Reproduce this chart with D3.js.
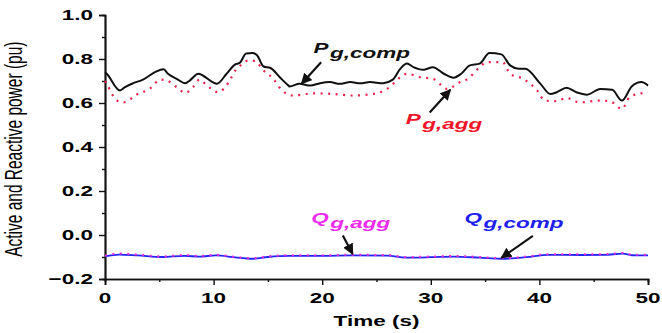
<!DOCTYPE html>
<html>
<head>
<meta charset="utf-8">
<script src="https://cdn.jsdelivr.net/npm/d3@7"></script>
<style>
  body { margin: 0; background: #fff; }
  text { font-family: "Liberation Sans", Arial, sans-serif; }
</style>
</head>
<body>
<div id="chart"></div>
<script>
// Active / reactive power, composite vs aggregated model

var pCompT = [0, 0.16, 1.38, 1.84, 2.6, 3.5, 4.6, 5.4, 5.8, 6.6, 7.4, 7.8, 8.6, 9.0, 9.9, 10.3, 11.2, 12.0, 12.4, 13.0, 13.6, 14.0, 14.6, 15.2, 16.1, 16.9, 17.0, 17.9, 18.9, 19.8, 20.7, 21.6, 22.6, 23.5, 24.4, 25.6, 26.5, 27.2, 27.8, 28.4, 29.3, 30.2, 31.2, 32.1, 32.8, 33.6, 34.5, 35.4, 36.5, 37.3, 38.1, 38.7, 40.1, 41.0, 41.6, 42.5, 43.4, 44.4, 45.6, 46.7, 47.6, 48.5, 49.4, 50];
var pCompV = [0.74, 0.733, 0.657, 0.672, 0.690, 0.706, 0.740, 0.753, 0.733, 0.710, 0.690, 0.702, 0.733, 0.725, 0.695, 0.687, 0.733, 0.776, 0.782, 0.825, 0.827, 0.817, 0.766, 0.760, 0.717, 0.679, 0.675, 0.687, 0.679, 0.690, 0.695, 0.687, 0.695, 0.690, 0.695, 0.690, 0.706, 0.756, 0.779, 0.763, 0.751, 0.763, 0.733, 0.715, 0.733, 0.771, 0.779, 0.827, 0.821, 0.771, 0.756, 0.756, 0.687, 0.641, 0.649, 0.669, 0.649, 0.638, 0.664, 0.660, 0.611, 0.675, 0.695, 0.679];

var pAggT = [0, 0.16, 1.1, 1.7, 2.9, 4.1, 5.1, 5.7, 6.6, 7.4, 8.1, 8.7, 9.4, 10.4, 11.4, 12.0, 12.7, 13.2, 13.8, 14.6, 15.5, 16.3, 17.3, 19.2, 21.0, 22.8, 24.7, 26.2, 27.2, 27.8, 29.0, 30.2, 31.5, 32.7, 33.6, 33.9, 35.3, 36.6, 37.3, 38.5, 39.8, 40.5, 41.6, 42.5, 43.7, 45.6, 46.5, 47.6, 48.3, 49.6, 50];
var pAggV = [0.70, 0.687, 0.611, 0.603, 0.638, 0.664, 0.706, 0.702, 0.672, 0.646, 0.672, 0.706, 0.679, 0.649, 0.695, 0.748, 0.779, 0.794, 0.791, 0.748, 0.710, 0.657, 0.634, 0.644, 0.641, 0.634, 0.641, 0.672, 0.717, 0.733, 0.717, 0.710, 0.664, 0.695, 0.717, 0.733, 0.786, 0.786, 0.733, 0.710, 0.657, 0.611, 0.608, 0.623, 0.603, 0.611, 0.608, 0.573, 0.626, 0.646, 0.648];

var qT = [0, 1.3, 3, 5.3, 7.3, 8.7, 10.2, 12, 13.5, 15, 17, 20, 22.7, 26, 27.7, 30, 32.1, 34.5, 36.5, 38.8, 40.8, 43.8, 46, 47.7, 48.5, 50];
var qCompV = [-0.097, -0.089, -0.093, -0.100, -0.095, -0.098, -0.093, -0.102, -0.108, -0.100, -0.095, -0.095, -0.093, -0.094, -0.103, -0.101, -0.098, -0.103, -0.108, -0.101, -0.090, -0.091, -0.090, -0.085, -0.092, -0.093];
var qAggV = [-0.094, -0.084, -0.089, -0.097, -0.091, -0.095, -0.090, -0.099, -0.106, -0.097, -0.092, -0.092, -0.090, -0.091, -0.100, -0.098, -0.095, -0.100, -0.105, -0.098, -0.087, -0.088, -0.087, -0.082, -0.089, -0.090];

var xTicks = [0, 10, 20, 30, 40, 50];
var xMinor = [5, 15, 25, 35, 45];
var yTicks = [-0.2, 0.0, 0.2, 0.4, 0.6, 0.8, 1.0];
var yMinor = [-0.1, 0.1, 0.3, 0.5, 0.7, 0.9];

// labels: arrow tip / tail and text start, in data units
var noteMain = ['P', 'P', 'Q', 'Q'];
var noteSub = ['g,comp', 'g,agg', 'g,agg', 'g,comp'];
var noteColor = ['#111111', '#f01428', '#ee2cee', '#2020f0'];
var noteTip = [[18.1, 0.688], [31.8, 0.660], [22.8, -0.086], [36.5, -0.104]];
var noteTail = [[19.9, 0.785], [29.9, 0.557], [21.9, -0.002], [39.4, -0.004]];
var noteText = [[19.2, 0.826], [27.7, 0.505], [19.0, 0.055], [33.1, 0.055]];

var w_width = 662, w_height = 333;
var sx = 1.5; // the source figure is stretched sideways

var svg = d3.select('#chart').append('svg')
  .attr('width', w_width)
  .attr('height', w_height)

var x = d3.scaleLinear().domain([0, 50]).range([105, 648])
var y = d3.scaleLinear().domain([-0.2, 1.0]).range([279, 15])

svg.append('defs').append('marker')
  .attr('id', 'head')
  .attr('viewBox', '0 0 10 10')
  .attr('refX', 9).attr('refY', 5)
  .attr('markerWidth', 5).attr('markerHeight', 5)
  .attr('orient', 'auto')
  .append('path').attr('d', 'M0,0 L10,5 L0,10 z').attr('fill', '#111')

// axes
var gx = svg.append('g').attr('transform', 'translate(0,' + y(-0.2) + ')')
gx.call(d3.axisBottom(x).tickValues(xTicks).tickSize(6).tickFormat(''))
gx.append('g').call(d3.axisBottom(x).tickValues(xMinor).tickSize(3).tickFormat(''))
var gy = svg.append('g').attr('transform', 'translate(' + x(0) + ',0)')
gy.call(d3.axisLeft(y).tickValues(yTicks).tickSize(6).tickFormat(''))
gy.append('g').call(d3.axisLeft(y).tickValues(yMinor).tickSize(3).tickFormat(''))
svg.selectAll('.domain').attr('stroke', '#111').attr('stroke-width', 1.7)
svg.selectAll('.tick line').attr('stroke', '#111').attr('stroke-width', 1.4)
gx.select('g').select('.domain').remove()
gy.select('g').select('.domain').remove()

svg.selectAll('.xlab').data(xTicks).enter().append('text')
  .attr('transform', function(d) {return 'translate(' + x(d) + ',303) scale(' + sx + ',1)'})
  .attr('text-anchor', 'middle')
  .style('font-size', '15px').style('font-weight', 'bold')
  .text(function(d) {return d})

svg.selectAll('.ylab').data(yTicks).enter().append('text')
  .attr('transform', function(d) {return 'translate(93,' + (y(d) + 5) + ') scale(' + sx + ',1)'})
  .attr('text-anchor', 'end')
  .style('font-size', '15px').style('font-weight', 'bold')
  .text(function(d) {return d3.format('.1f')(d)})

svg.append('text')
  .attr('transform', 'translate(' + x(25) + ',326) scale(' + sx + ',1)')
  .attr('text-anchor', 'middle')
  .style('font-size', '15px').style('font-weight', 'bold')
  .text('Time (s)')

svg.append('text')
  .attr('transform', 'translate(22,' + y(0.39) + ') scale(' + sx + ',1) rotate(-90)')
  .attr('text-anchor', 'middle')
  .style('font-size', '15.5px')
  .text('Active and Reactive power (pu)')

// series
var line = d3.line().curve(d3.curveMonotoneX)
function pts(ts, vs) {return ts.map(function(t, i) {return [x(t), y(vs[i])]})}

svg.append('path').attr('d', line(pts(pAggT, pAggV)))
  .attr('fill', 'none').attr('stroke', '#ec1e4a').attr('stroke-width', 2.2)
  .style('stroke-dasharray', '2,5.5')
svg.append('path').attr('d', line(pts(pCompT, pCompV)))
  .attr('fill', 'none').attr('stroke', '#111').attr('stroke-width', 2)
svg.append('path').attr('d', line(pts(qT, qCompV)))
  .attr('fill', 'none').attr('stroke', '#2424f0').attr('stroke-width', 1.8)
svg.append('path').attr('d', line(pts(qT, qAggV)))
  .attr('fill', 'none').attr('stroke', '#f02cd8').attr('stroke-width', 2)
  .style('stroke-dasharray', '2,5.5')

// arrows and labels
noteMain.forEach(function(m, i) {
  svg.append('line')
    .attr('x1', x(noteTail[i][0])).attr('y1', y(noteTail[i][1]))
    .attr('x2', x(noteTip[i][0])).attr('y2', y(noteTip[i][1]))
    .attr('stroke', '#111').attr('stroke-width', 2.2)
    .attr('marker-end', 'url(#head)')
  var t = svg.append('text')
    .attr('transform', 'translate(' + x(noteText[i][0]) + ',' + y(noteText[i][1]) + ') scale(' + sx + ',1)')
    .attr('fill', noteColor[i])
    .style('font-size', '15px').style('font-weight', 'bold').style('font-style', 'italic')
  t.append('tspan').text(m)
  t.append('tspan').attr('dy', 5).attr('dx', 1).text(noteSub[i])
})
</script>
</body>
</html>
